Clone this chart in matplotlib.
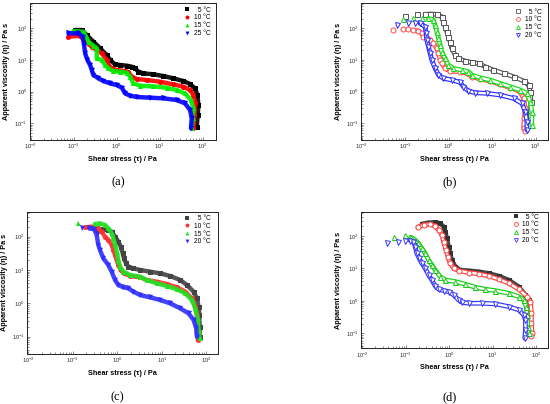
import matplotlib
matplotlib.use("Agg")
import matplotlib.pyplot as plt
from matplotlib.lines import Line2D

plt.rcParams['font.family'] = ['Liberation Sans', 'DejaVu Sans']
plt.rcParams['mathtext.fontset'] = 'custom'
plt.rcParams['mathtext.rm'] = 'Liberation Sans'
plt.rcParams['mathtext.it'] = 'Liberation Sans:italic'
plt.rcParams['mathtext.bf'] = 'Liberation Sans:bold'

# ---------------- data (shear stress / Pa, apparent viscosity / Pa s) ----------------
# panel (a)
a_labels = ["  5 °C", "10 °C", "15 °C", "25 °C"]
a_x5 = [0.107, 0.153, 0.200, 0.287, 0.410, 0.585, 0.700, 0.914, 1.20, 1.71, 2.23, 2.67, 3.19, 4.17, 7.12, 12.2, 20.8, 35.5, 50.8, 66.3, 75.2, 79.3, 76.5, 72.5]
a_y5 = [88.6, 88.6, 61.6, 37.9, 23.4, 14.4, 10.0, 7.30, 6.95, 6.62, 6.16, 5.46, 4.28, 3.79, 3.53, 3.12, 2.64, 2.17, 1.75, 1.27, 0.785, 0.379, 0.183, 0.0785]
a_x10 = [0.0751, 0.140, 0.184, 0.262, 0.343, 0.448, 0.585, 0.640, 0.765, 1.0, 1.56, 1.87, 2.23, 2.92, 4.99, 10.2, 20.8, 35.5, 50.8, 60.7, 66.3, 64.0, 60.7]
a_y10 = [54.6, 58.7, 37.9, 26.4, 20.7, 16.2, 10.0, 6.95, 5.46, 4.83, 4.49, 4.08, 2.98, 2.51, 2.34, 2.07, 1.70, 1.44, 1.13, 0.785, 0.428, 0.183, 0.0695]
a_x15 = [0.098, 0.168, 0.194, 0.219, 0.287, 0.343, 0.343, 0.448, 0.535, 0.640, 0.836, 1.20, 1.71, 2.04, 2.44, 3.49, 7.12, 14.5, 24.9, 38.8, 53.5, 60.7, 58.5, 55.5]
a_y15 = [82.4, 78.5, 54.6, 37.9, 28.4, 23.4, 11.3, 10.0, 6.95, 5.46, 4.49, 4.28, 3.98, 2.98, 1.83, 1.55, 1.47, 1.34, 1.13, 0.886, 0.546, 0.298, 0.144, 0.0695]
a_x25 = [0.0751, 0.128, 0.162, 0.174, 0.184, 0.208, 0.240, 0.262, 0.287, 0.375, 0.490, 0.700, 1.0, 1.31, 1.56, 2.04, 2.92, 5.96, 12.2, 24.9, 38.8, 50.8, 55.5, 53.5]
a_y25 = [69.5, 69.5, 54.6, 29.8, 16.2, 10.0, 6.95, 4.83, 3.36, 2.64, 2.17, 1.83, 1.62, 1.34, 0.886, 0.748, 0.679, 0.647, 0.616, 0.546, 0.428, 0.264, 0.144, 0.0695]

# panel (b)
b_labels = ["  5 °C", "10 °C", "15 °C", "20 °C"]
b_x5 = [0.0982, 0.183, 0.284, 0.371, 0.529, 0.689, 0.753, 0.823, 0.899, 0.982, 1.07, 1.17, 1.40, 1.67, 2.38, 3.40, 4.84, 6.89, 10.7, 18.3, 31.1, 52.9, 68.9, 75.3, 78.0, 75.3, 72.7]
b_y5 = [251, 277, 277, 284, 277, 234, 162, 113, 78.5, 54.6, 37.9, 23.4, 14.4, 11.3, 9.30, 8.44, 7.85, 6.16, 4.83, 3.79, 2.98, 2.17, 1.62, 1.0, 0.483, 0.183, 0.0886]
b_x10 = [0.0528, 0.0899, 0.117, 0.153, 0.200, 0.238, 0.260, 0.311, 0.371, 0.443, 0.529, 0.578, 0.631, 0.689, 0.823, 1.07, 1.83, 2.60, 3.40, 5.28, 8.99, 15.3, 26.0, 44.3, 52.9, 57.8, 54.8, 52.9, 57.8]
b_y10 = [88.6, 93.0, 95.3, 88.6, 82.4, 69.5, 54.6, 48.3, 42.8, 33.6, 23.4, 16.2, 10.0, 7.85, 5.46, 4.49, 4.28, 3.79, 2.98, 2.51, 2.17, 1.70, 1.34, 1.0, 0.616, 0.298, 0.144, 0.0695, 0.0573]
b_x15 = [0.0899, 0.153, 0.238, 0.340, 0.443, 0.484, 0.529, 0.578, 0.631, 0.689, 0.823, 0.982, 1.28, 2.0, 2.84, 3.40, 5.28, 8.99, 15.3, 26.0, 44.3, 63.1, 75.3, 82.3, 82.3]
b_y15 = [197, 207, 207, 207, 183, 127, 78.5, 48.3, 29.8, 18.3, 11.3, 6.95, 5.46, 4.83, 4.28, 3.36, 2.77, 2.34, 1.83, 1.44, 1.13, 0.886, 0.483, 0.233, 0.0886]
b_x20 = [0.063, 0.117, 0.167, 0.218, 0.284, 0.300, 0.311, 0.340, 0.371, 0.405, 0.484, 0.578, 0.753, 1.17, 1.83, 2.18, 2.84, 4.05, 7.53, 15.3, 31.1, 48.4, 57.8, 63.1, 63.1]
b_y20 = [127, 144, 144, 144, 113, 69.5, 42.8, 26.4, 16.2, 10.0, 5.46, 3.36, 2.64, 2.34, 1.97, 1.44, 1.05, 0.93, 0.886, 0.785, 0.616, 0.428, 0.233, 0.113, 0.0616]

# panel (c)
c_labels = ["  5 °C", "10 °C", "15 °C", "20 °C"]
c_x5 = [0.342, 0.483, 0.627, 0.745, 0.886, 1.05, 1.19, 1.32, 1.41, 1.57, 1.77, 2.30, 3.24, 5.46, 9.17, 15.4, 25.9, 36.6, 51.8, 61.5, 67.1, 69.5, 70.8, 70.8]
c_y5 = [158, 166, 158, 141, 100, 70.8, 50.1, 31.6, 22.4, 15.8, 12.6, 11.2, 10.0, 8.91, 7.94, 6.61, 5.01, 3.55, 2.24, 1.41, 0.794, 0.447, 0.2, 0.1]
c_x10 = [0.187, 0.264, 0.373, 0.443, 0.527, 0.627, 0.745, 0.813, 0.886, 0.966, 1.05, 1.19, 1.41, 1.93, 3.24, 4.59, 7.71, 13.0, 21.8, 33.6, 47.5, 56.5, 61.5, 61.5, 61.5, 64.9]
c_y10 = [191, 200, 178, 141, 100, 79.4, 56.2, 39.8, 28.2, 20.0, 14.1, 10.0, 7.94, 6.61, 6.03, 5.01, 4.47, 3.80, 3.02, 2.24, 1.41, 0.794, 0.447, 0.251, 0.126, 0.0794]
c_x15 = [0.132, 0.313, 0.406, 0.527, 0.627, 0.745, 0.813, 0.886, 0.966, 1.05, 1.15, 1.37, 1.93, 3.24, 4.59, 7.71, 13.0, 21.8, 33.6, 47.5, 56.5, 63.8, 67.1, 70.8]
c_y15 = [251, 240, 251, 224, 178, 126, 89.1, 56.2, 35.5, 20.0, 12.6, 8.91, 7.08, 6.31, 5.01, 3.98, 3.31, 2.63, 2.0, 1.26, 0.708, 0.355, 0.158, 0.0891]
c_x20 = [0.157, 0.233, 0.303, 0.342, 0.373, 0.406, 0.483, 0.627, 0.745, 0.886, 1.05, 1.37, 1.77, 2.30, 3.24, 5.46, 9.17, 15.4, 25.9, 40.0, 51.8, 59.5, 61.5]
c_y20 = [178, 178, 166, 112, 56.2, 39.8, 22.4, 14.1, 8.91, 5.01, 3.55, 3.02, 2.82, 2.24, 1.78, 1.51, 1.26, 1.0, 0.708, 0.501, 0.316, 0.178, 0.1]

# panel (d)
d_labels = ["  5 °C", "10 °C", "15 °C", "20 °C"]
d_x5 = [0.234, 0.334, 0.475, 0.620, 0.740, 0.809, 0.884, 0.965, 1.05, 1.15, 1.38, 1.79, 2.79, 4.75, 8.08, 13.8, 23.4, 39.8, 56.7, 70.2, 74.0, 71.4, 67.7]
d_y5 = [237, 260, 266, 248, 196, 137, 85.5, 47.4, 29.5, 18.4, 11.5, 9.03, 8.61, 8.02, 7.13, 5.90, 4.44, 2.77, 1.53, 1.07, 0.528, 0.259, 0.128]
d_x10 = [0.189, 0.256, 0.364, 0.475, 0.567, 0.677, 0.740, 0.838, 0.931, 1.05, 1.26, 1.64, 2.79, 4.75, 8.08, 13.8, 23.4, 39.8, 62.0, 74.0, 78.0, 78.0, 80.8, 78.0]
d_y10 = [187, 220, 231, 205, 155, 108, 67.5, 37.4, 23.3, 14.5, 10.2, 8.61, 7.48, 6.80, 5.90, 4.66, 3.51, 2.29, 1.36, 0.954, 0.417, 0.205, 0.1007, 0.0834]
d_x15 = [0.0547, 0.0966, 0.130, 0.164, 0.196, 0.234, 0.279, 0.334, 0.398, 0.475, 0.620, 0.809, 1.38, 2.34, 3.98, 6.77, 11.5, 23.4, 39.8, 51.9, 58.7, 62.0, 64.2, 67.7]
d_y15 = [96.3, 108, 91.8, 76.0, 60.0, 42.0, 29.5, 18.4, 12.9, 9.03, 5.62, 4.44, 3.95, 3.27, 2.64, 2.29, 2.08, 1.72, 1.36, 1.07, 0.669, 0.370, 0.162, 0.1007]
d_x20 = [0.0364, 0.0654, 0.0966, 0.126, 0.150, 0.164, 0.179, 0.203, 0.234, 0.279, 0.334, 0.398, 0.475, 0.567, 0.740, 0.965, 1.26, 1.64, 1.96, 2.79, 5.67, 11.5, 23.4, 39.8, 51.9, 56.7, 56.7, 54.8]
d_y20 = [62.9, 67.5, 72.5, 72.5, 67.5, 47.4, 29.5, 20.7, 14.5, 10.2, 6.33, 4.44, 2.90, 2.29, 2.08, 1.94, 1.53, 1.07, 0.910, 0.847, 0.847, 0.809, 0.669, 0.528, 0.370, 0.259, 0.128, 0.0706]

captions = ["(a)", "(b)", "(c)", "(d)"]
xlabel = "Shear stress (τ) / Pa"
ylabel = "Apparent viscosity (η) / Pa s"

# ---------------- figure ----------------
W, H = 550, 404
fig = plt.figure(figsize=(W / 100, H / 100), dpi=100)

def px_rect(l, t, r, b):
    return [l / W, 1 - b / H, (r - l) / W, (b - t) / H]

panels = [
    dict(rect=px_rect(29.5, 2.7, 215.6, 140), xl=(10**-2.03, 10**2.30), yl=(10**-1.525, 10**2.81),
         series=[(a_x5, a_y5), (a_x10, a_y10), (a_x15, a_y15), (a_x25, a_y25)], labels=a_labels,
         colors=['#000000', '#ff0000', '#00ee00', '#0000ff'], filled=True, cap=(118, 182),
         leg=(187.3, 10.7), skip=[0, 0, 0, 0]),
    dict(rect=px_rect(360.7, 2.7, 547.5, 140), xl=(10**-2.03, 10**2.275), yl=(10**-1.525, 10**2.81),
         series=[(b_x5, b_y5), (b_x10, b_y10), (b_x15, b_y15), (b_x20, b_y20)], labels=b_labels,
         colors=['#555555', '#ff4a4a', '#11dd11', '#2a2aff'], filled=False, cap=(450, 182),
         leg=(518.3, 12.7), skip=[2, 3, 3, 3]),
    dict(rect=px_rect(26.7, 211.7, 218.3, 354), xl=(10**-2.04, 10**2.27), yl=(10**-1.52, 10**2.75),
         series=[(c_x5, c_y5), (c_x10, c_y10), (c_x15, c_y15), (c_x20, c_y20)], labels=c_labels,
         colors=['#444444', '#ff3333', '#22e022', '#3030ff'], filled=True, cap=(117, 397),
         leg=(187.3, 219), skip=[0, 0, 1, 1]),
    dict(rect=px_rect(361, 211.7, 548.3, 348.3), xl=(10**-2.03, 10**2.28), yl=(10**-1.46, 10**2.75),
         series=[(d_x5, d_y5), (d_x10, d_y10), (d_x15, d_y15), (d_x20, d_y20)], labels=d_labels,
         colors=['#333333', '#ff4040', '#11cc11', '#3535ff'], filled=False, cap=(450, 397),
         leg=(516, 217.7), skip=[0, 0, 2, 3]),
]
markers = ['s', 'o', '^', 'v']

for i, p in enumerate(panels):
    ax = fig.add_axes(p['rect'])
    ax.set_xscale('log')
    ax.set_yscale('log')
    handles = []
    for k, ((xs, ys), col) in enumerate(zip(p['series'], p['colors'])):
        mk = markers[k]
        s0 = p['skip'][k]
        z = 2 + k * 0.1
        solid = p['filled'] or (i == 3 and k == 0)
        if solid:
            ax.plot(xs[s0:], ys[s0:], '-', color=col, lw=3.2, alpha=0.9,
                    solid_capstyle='round', solid_joinstyle='round', zorder=z)
            ax.plot(xs, ys, mk, color=col, ms=3.6, mew=0, zorder=z + 0.05)
            h = Line2D([], [], ls='none', marker=mk, color=col, ms=2.8, mew=0)
        else:
            ax.plot(xs[s0:], ys[s0:], '-', color=col, lw=3.4,
                    solid_capstyle='round', solid_joinstyle='round', zorder=z)
            ax.plot(xs[s0:], ys[s0:], '-', color='white', lw=1.7,
                    solid_capstyle='round', solid_joinstyle='round', zorder=z + 0.02)
            ax.plot(xs, ys, mk, mfc='white', mec=col, ms=3.6, mew=0.7, zorder=z + 0.05)
            h = Line2D([], [], ls='none', marker=mk, mfc='none', mec=col, ms=2.8, mew=0.6)
        handles.append(h)
    ax.set_xlim(*p['xl'])
    ax.set_ylim(*p['yl'])
    for s in ax.spines.values():
        s.set_linewidth(0.7)
        s.set_color('#222222')
    ax.tick_params(which='both', direction='in', width=0.4, colors='#333333', labelsize=4.2, pad=1.5)
    ax.tick_params(which='major', length=2.2)
    ax.tick_params(which='minor', length=1.2)
    bb = p['rect']
    wpx, hpx = bb[2] * W, bb[3] * H
    ax.set_xlabel(xlabel, fontsize=5.2, fontweight='bold', va='center')
    ax.xaxis.set_label_coords(0.5, -19.5 / hpx)
    ax.set_ylabel(ylabel, fontsize=5.2, fontweight='bold', va='center')
    ax.yaxis.set_label_coords(-22.5 / wpx, 0.5)

    lx, ly = p['leg']
    l0 = bb[0] * W
    t0 = (1 - bb[1] - bb[3]) * H
    ax.legend(handles, p['labels'], loc='upper left',
              bbox_to_anchor=((lx - 3 - l0) / wpx, 1 - (ly - 4 - t0) / hpx),
              frameon=False, fontsize=4.8, handlelength=0.9, handletextpad=0.5,
              labelspacing=0.12, borderpad=0, borderaxespad=0)

    cx, cy = p['cap']
    fig.text(cx / W, 1 - cy / H, captions[i], ha='center', va='center',
             family=['Liberation Serif', 'DejaVu Serif'], fontsize=9)

fig.savefig('out.png', dpi=100)
